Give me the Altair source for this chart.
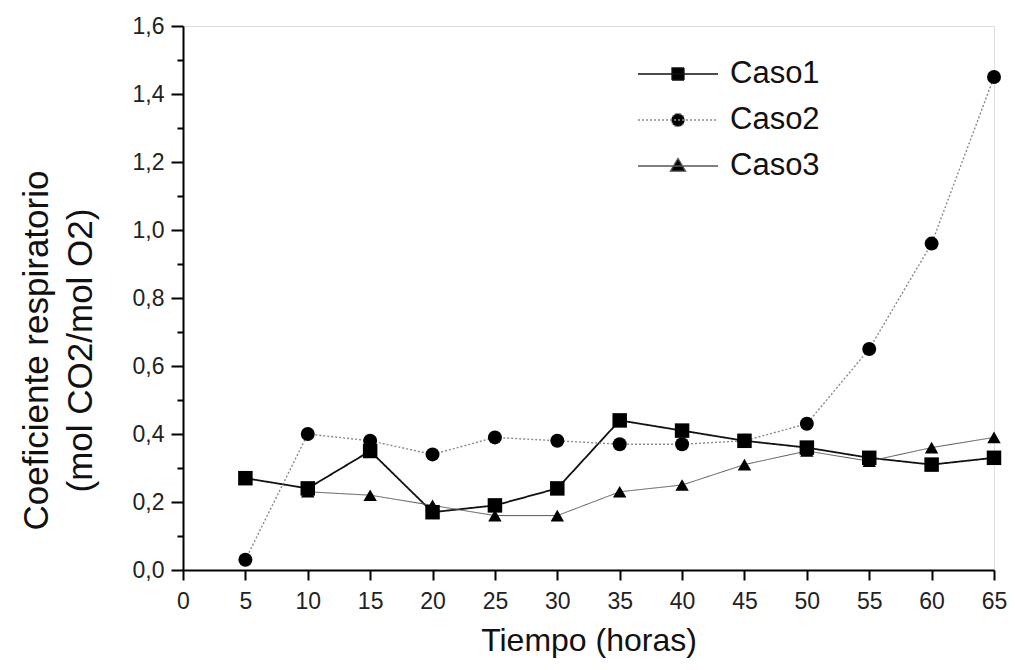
import altair as alt
import pandas as pd

horas = [5, 10, 15, 20, 25, 30, 35, 40, 45, 50, 55, 60, 65]
caso1 = [0.27, 0.24, 0.35, 0.17, 0.19, 0.24, 0.44, 0.41, 0.38, 0.36, 0.33, 0.31, 0.33]
caso2 = [0.03, 0.40, 0.38, 0.34, 0.39, 0.38, 0.37, 0.37, 0.38, 0.43, 0.65, 0.96, 1.45]
horas3 = [10, 15, 20, 25, 30, 35, 40, 45, 50, 55, 60, 65]
caso3 = [0.23, 0.22, 0.19, 0.16, 0.16, 0.23, 0.25, 0.31, 0.35, 0.32, 0.36, 0.39]

casos = ["Caso1", "Caso2", "Caso3"]
x_ticks = list(range(0, 66, 5))
y_major = [0.0, 0.2, 0.4, 0.6, 0.8, 1.0, 1.2, 1.4, 1.6]
y_minor = [0.1, 0.3, 0.5, 0.7, 0.9, 1.1, 1.3, 1.5]

rows = []
for h, v in zip(horas, caso1):
    rows.append({"t": h, "v": v, "caso": "Caso1"})
for h, v in zip(horas, caso2):
    rows.append({"t": h, "v": v, "caso": "Caso2"})
for h, v in zip(horas3, caso3):
    rows.append({"t": h, "v": v, "caso": "Caso3"})
df = pd.DataFrame(rows)

FONT = "Liberation Sans"

xscale = alt.Scale(domain=[0, 65], nice=False, zero=False)
yscale = alt.Scale(domain=[0, 1.6], nice=False)

xaxis = alt.Axis(values=x_ticks, title="Tiempo (horas)", grid=False,
                 tickSize=10, tickWidth=2, tickColor="black", domainColor="black",
                 domainWidth=2, labelFontSize=23, labelFont=FONT, labelColor="#222",
                 labelPadding=10, titleFontSize=32, titleFont=FONT, titleColor="#111",
                 titleFontWeight="normal", titlePadding=12, labelFlush=False)
yaxis = alt.Axis(values=y_major, title=["Coeficiente respiratorio", "(mol CO2/mol O2)"],
                 grid=False, orient="left",
                 labelExpr="replace(format(datum.value, '.1f'), '.', ',')",
                 tickSize=12, tickWidth=2, tickColor="black", domainColor="black",
                 domainWidth=2, labelFontSize=23, labelFont=FONT, labelColor="#222",
                 labelPadding=7, titleFontSize=35, titleFont=FONT, titleColor="#111",
                 titleFontWeight="normal", titleLineHeight=44, titlePadding=34,
                 titleY=324, labelFlush=False)
yaxis_minor = alt.Axis(values=y_minor, title=None, grid=False, orient="left",
                       labels=False, tickSize=6, tickWidth=2, tickColor="black",
                       domain=False)

base = alt.Chart(df)

lines = base.mark_line().encode(
    x=alt.X("t:Q", scale=xscale, axis=xaxis),
    y=alt.Y("v:Q", scale=yscale, axis=yaxis),
    detail="caso:N",
    stroke=alt.Stroke("caso:N", scale=alt.Scale(domain=casos, range=["#111111", "#8a8a8a", "#555555"]), legend=None),
    strokeDash=alt.StrokeDash("caso:N", scale=alt.Scale(domain=casos, range=[[1, 0], [2, 2], [1, 0]]), legend=None),
    strokeWidth=alt.StrokeWidth("caso:N", scale=alt.Scale(domain=casos, range=[1.8, 1.0, 1.1]), legend=None),
)

minor = base.mark_point(opacity=0).encode(
    x=alt.X("t:Q", scale=xscale, axis=xaxis),
    y=alt.Y("v:Q", scale=yscale, axis=yaxis_minor),
)

points = base.mark_point(filled=True, color="black", opacity=1).encode(
    x=alt.X("t:Q", scale=xscale, axis=xaxis),
    y=alt.Y("v:Q", scale=yscale, axis=None),
    shape=alt.Shape("caso:N", scale=alt.Scale(domain=casos, range=["square", "circle", "triangle-up"]), legend=None),
    size=alt.Size("caso:N", scale=alt.Scale(domain=casos, range=[210, 180, 320]), legend=None),
)

sq = "M-2,0H2M-0.3,-0.3H0.3V0.3H-0.3Z"
ci = "M-2,0H2M0.33,0A0.33,0.33,0,1,1,-0.33,0A0.33,0.33,0,1,1,0.33,0Z"
tr = "M-2,0H2M0,-0.38L0.38,0.26L-0.38,0.26Z"

leg = alt.Legend(title=None, orient="none", legendX=474, legendY=27, padding=0,
                 symbolSize=1600, symbolStrokeWidth=1.3, labelOffset=31,
                 labelFontSize=31, labelFont=FONT, labelColor="#111",
                 rowPadding=10, symbolFillColor="black", symbolOpacity=1)

legend_layer = base.mark_point(filled=True, fill="black", opacity=0).encode(
    x=alt.X("t:Q", scale=xscale, axis=xaxis),
    y=alt.Y("v:Q", scale=yscale, axis=None),
    shape=alt.Shape("caso:N", scale=alt.Scale(domain=casos, range=[sq, ci, tr]), legend=leg),
    stroke=alt.Stroke("caso:N", scale=alt.Scale(domain=casos, range=["#111111", "#8a8a8a", "#555555"]), legend=leg),
    strokeDash=alt.StrokeDash("caso:N", scale=alt.Scale(domain=casos, range=[[1, 0], [2, 2], [1, 0]]), legend=leg),
)

chart = alt.layer(lines, minor, points, legend_layer).resolve_scale(
    shape="independent", stroke="independent", strokeDash="independent", size="independent"
).resolve_axis(y="independent").properties(
    width=811, height=544,
    padding={"left": 175, "top": 18, "right": 13, "bottom": 92},
    autosize=alt.AutoSizeParams(type="none"),
).configure_view(stroke=None).configure(background="white")

chart.save("out.html", embed_options={"renderer": "svg", "actions": False})
